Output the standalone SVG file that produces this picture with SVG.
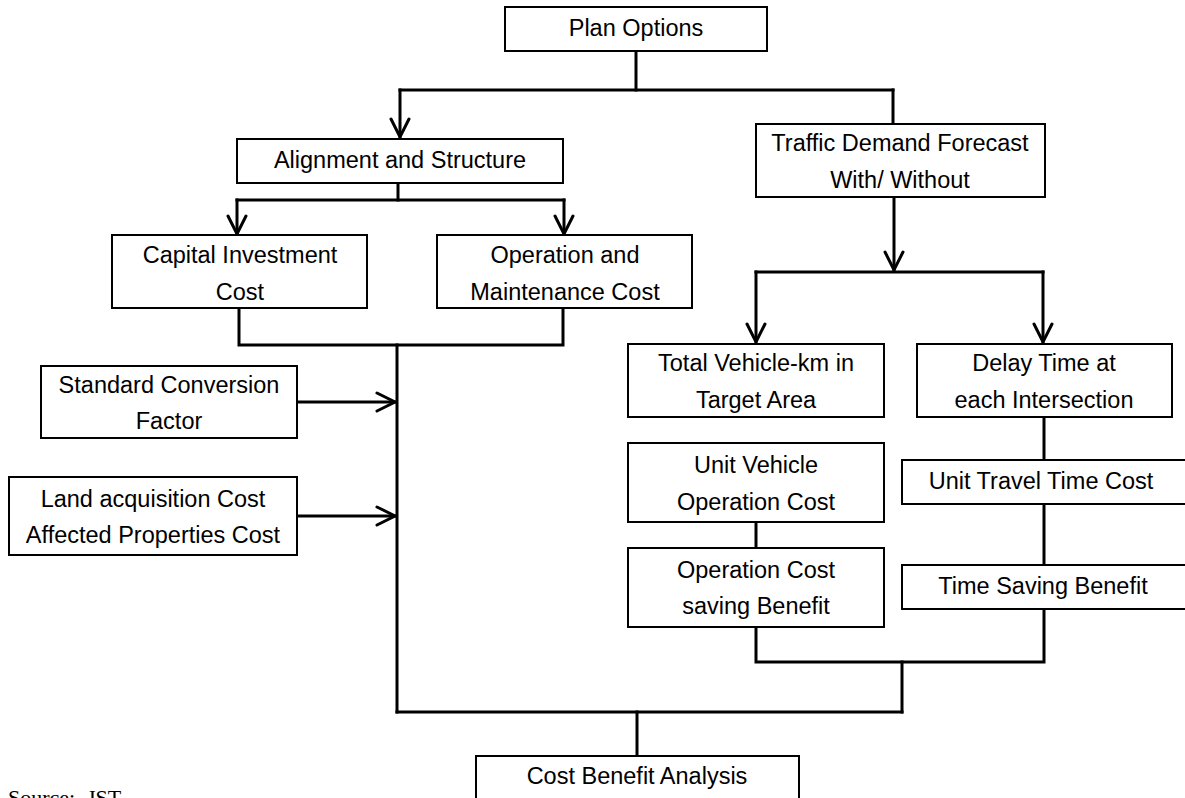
<svg xmlns="http://www.w3.org/2000/svg" width="1185" height="798" viewBox="0 0 1185 798">
  <style>
    .box { fill: #ffffff; stroke: #000000; stroke-width: 2; }
    .lbl { font-family: "Liberation Sans", Arial, sans-serif; font-size: 23.5px; fill: #000000; text-anchor: middle; }
    .wire { fill: none; stroke: #000000; stroke-width: 3; stroke-linecap: square; }
    .arrow { marker-end: url(#openHead); }
    .note { font-family: "Liberation Serif", "Times New Roman", serif; font-size: 22px; fill: #000000; }
  </style>
  <defs>
    <marker id="openHead" markerUnits="userSpaceOnUse" markerWidth="24" markerHeight="24" viewBox="-20 -12 24 24" refX="0" refY="0" orient="auto">
      <path d="M-18,-9 L0,0 L-18,9" fill="none" stroke="#000000" stroke-width="3" stroke-linecap="round" stroke-linejoin="miter"/>
    </marker>
  </defs>
  <rect width="1185" height="798" fill="#ffffff"/>

  <!-- connectors -->
  <g id="connectors">
    <path class="wire" d="M636,51 V90"/>
    <path class="wire" d="M400,90 H893"/>
    <path class="wire arrow" d="M400,90 V137"/>
    <path class="wire" d="M893,90 V124"/>

    <path class="wire" d="M398,183 V200"/>
    <path class="wire" d="M237,200 H564"/>
    <path class="wire arrow" d="M237,200 V234"/>
    <path class="wire arrow" d="M564,200 V234"/>

    <path class="wire" d="M239,308 V345 H563 V308"/>
    <path class="wire" d="M397,345 V712"/>
    <path class="wire arrow" d="M297,402 H395"/>
    <path class="wire arrow" d="M297,516 H395"/>

    <path class="wire arrow" d="M894,197 V270"/>
    <path class="wire" d="M756,272 H1043"/>
    <path class="wire arrow" d="M756,272 V342"/>
    <path class="wire arrow" d="M1043,272 V342"/>

    <path class="wire" d="M1044,417 V460"/>
    <path class="wire" d="M756,522 V548"/>
    <path class="wire" d="M1044,504 V565"/>
    <path class="wire" d="M756,627 V662 H1044 V609"/>
    <path class="wire" d="M902,662 V712"/>
    <path class="wire" d="M397,712 H902"/>
    <path class="wire" d="M637,712 V756"/>
  </g>

  <g id="plan-options">
    <rect class="box" x="505" y="7" width="262" height="44"/>
    <text class="lbl" x="636" y="36">Plan Options</text>
  </g>

  <g id="alignment-structure">
    <rect class="box" x="237" y="139" width="326" height="44"/>
    <text class="lbl" x="400" y="168">Alignment and Structure</text>
  </g>

  <g id="traffic-demand">
    <rect class="box" x="756" y="124" width="289" height="73"/>
    <text class="lbl" x="900" y="151">Traffic Demand Forecast</text>
    <text class="lbl" x="900" y="188">With/ Without</text>
  </g>

  <g id="capital-cost">
    <rect class="box" x="112" y="235" width="255" height="73"/>
    <text class="lbl" x="240" y="263">Capital Investment</text>
    <text class="lbl" x="240" y="300">Cost</text>
  </g>

  <g id="om-cost">
    <rect class="box" x="437" y="235" width="255" height="73"/>
    <text class="lbl" x="565" y="263">Operation and</text>
    <text class="lbl" x="565" y="300">Maintenance Cost</text>
  </g>

  <g id="conversion-factor">
    <rect class="box" x="41" y="366" width="256" height="72"/>
    <text class="lbl" x="169" y="393">Standard Conversion</text>
    <text class="lbl" x="169" y="429">Factor</text>
  </g>

  <g id="land-cost">
    <rect class="box" x="9" y="477" width="288" height="78"/>
    <text class="lbl" x="153" y="507">Land acquisition Cost</text>
    <text class="lbl" x="153" y="543">Affected Properties Cost</text>
  </g>

  <g id="vehicle-km">
    <rect class="box" x="628" y="344" width="256" height="73"/>
    <text class="lbl" x="756" y="371">Total Vehicle-km in</text>
    <text class="lbl" x="756" y="408">Target Area</text>
  </g>

  <g id="delay-time">
    <rect class="box" x="917" y="344" width="255" height="73"/>
    <text class="lbl" x="1044" y="371">Delay Time at</text>
    <text class="lbl" x="1044" y="408">each Intersection</text>
  </g>

  <g id="unit-vehicle-cost">
    <rect class="box" x="628" y="443" width="256" height="79"/>
    <text class="lbl" x="756" y="473">Unit Vehicle</text>
    <text class="lbl" x="756" y="510">Operation Cost</text>
  </g>

  <g id="operation-saving">
    <rect class="box" x="628" y="548" width="256" height="79"/>
    <text class="lbl" x="756" y="578">Operation Cost</text>
    <text class="lbl" x="756" y="614">saving Benefit</text>
  </g>

  <g id="unit-travel-time">
    <rect class="box" x="902" y="460" width="290" height="44"/>
    <text class="lbl" x="1041" y="489">Unit Travel Time Cost</text>
  </g>

  <g id="time-saving">
    <rect class="box" x="902" y="565" width="290" height="44"/>
    <text class="lbl" x="1043" y="594">Time Saving Benefit</text>
  </g>

  <g id="cost-benefit">
    <rect class="box" x="476" y="756" width="323" height="60"/>
    <text class="lbl" x="637" y="784">Cost Benefit Analysis</text>
  </g>

  <text class="note" x="8" y="805">Source:<tspan x="87">JST</tspan></text>
</svg>
